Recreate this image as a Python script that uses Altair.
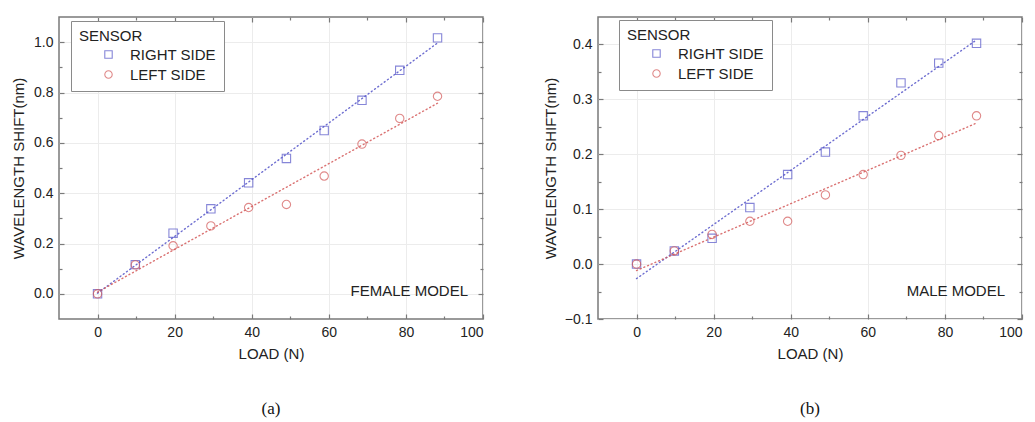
import altair as alt
import pandas as pd

# ---- data ----
loads = [0, 9.8, 19.6, 29.4, 39.2, 49.0, 58.8, 68.6, 78.4, 88.2]
female_right = [0.0, 0.116, 0.241, 0.338, 0.441, 0.538, 0.649, 0.769, 0.888, 1.017]
female_left = [0.0, 0.115, 0.191, 0.270, 0.343, 0.355, 0.468, 0.595, 0.697, 0.785]
male_right = [0.0, 0.024, 0.047, 0.103, 0.163, 0.204, 0.270, 0.330, 0.366, 0.402]
male_left = [0.0, 0.024, 0.054, 0.078, 0.078, 0.126, 0.163, 0.198, 0.234, 0.270]

sensors = ["RIGHT SIDE", "LEFT SIDE"]
colors = ["#5454c8", "#d35858"]
shapes = ["square", "circle"]

x_major = [0, 20, 40, 60, 80, 100]
x_minor = [10, 30, 50, 70, 90]
fy_major = [0.0, 0.2, 0.4, 0.6, 0.8, 1.0]
fy_minor = [0.1, 0.3, 0.5, 0.7, 0.9]
my_major = [-0.1, 0.0, 0.1, 0.2, 0.3, 0.4]
my_minor = [-0.05, 0.05, 0.15, 0.25, 0.35]

FONT = "Liberation Sans, Arial, sans-serif"
SERIF = "Liberation Serif, Times New Roman, serif"
W, H = 424, 302
FRAME = "#7a7a7a"


def make_df(right, left):
    return pd.DataFrame({
        "load": loads + loads,
        "shift": right + left,
        "sensor": [sensors[0]] * len(loads) + [sensors[1]] * len(loads),
    })


def panel(df, ydom, ymajor, yminor, title_x, leg_x, leg_y, model, model_x, caption):
    xs = alt.Scale(domain=[-10, 100], nice=False, zero=False)
    ys = alt.Scale(domain=ydom, nice=False, zero=False)
    cs = alt.Scale(domain=sensors, range=colors)
    ss = alt.Scale(domain=sensors, range=shapes)
    base = alt.Chart(df)

    leg = dict(
        title="\u00a0SENSOR", orient="none", legendX=leg_x, legendY=leg_y,
        padding=8, strokeColor="#8a8a8a", fillColor="white",
        symbolOffset=22, labelOffset=14, rowPadding=4, titlePadding=3,
        symbolSize=55, symbolStrokeWidth=1.1,
        titleFontSize=15, labelFontSize=15, titleFont=FONT, labelFont=FONT,
        titleFontWeight="normal", titleColor="#222", labelColor="#222",
    )

    points = base.mark_point(filled=False, strokeWidth=1.1, size=70).encode(
        x=alt.X("load:Q", scale=xs, axis=alt.Axis(
            orient="bottom", values=x_major, format="d", ticks=False, domain=False,
            grid=True, gridColor="#ececec", labelPadding=6,
            labelFont=FONT, labelFontSize=14, labelColor="#222",
            title="LOAD (N)", titleY=34, titleBaseline="middle",
            titleFont=FONT, titleFontSize=15, titleFontWeight="normal", titleColor="#222")),
        y=alt.Y("shift:Q", scale=ys, axis=alt.Axis(
            orient="left", values=ymajor, format=".1f", ticks=False, domain=False,
            grid=True, gridColor="#ececec", labelPadding=6,
            labelFont=FONT, labelFontSize=14, labelColor="#222",
            title="WAVELENGTH SHIFT(nm)", titleX=title_x, titleBaseline="middle",
            titleFont=FONT, titleFontSize=15, titleFontWeight="normal", titleColor="#222")),
        color=alt.Color("sensor:N", scale=cs, legend=alt.Legend(**leg)),
        shape=alt.Shape("sensor:N", scale=ss, legend=alt.Legend(**leg)),
    )

    fit = base.transform_regression(
        "load", "shift", groupby=["sensor"]
    ).mark_line(strokeDash=[1, 3], strokeWidth=1.4, strokeCap="round", opacity=0.85).encode(
        x=alt.X("load:Q", scale=xs, axis=None),
        y=alt.Y("shift:Q", scale=ys, axis=None),
        color=alt.Color("sensor:N", scale=cs, legend=None),
    )

    def ticks(xvals, yvals, xo, yo, size):
        return base.mark_point(opacity=0).encode(
            x=alt.X("load:Q", scale=xs, axis=alt.Axis(
                orient=xo, values=xvals, labels=False, domain=False, grid=False,
                title=None, tickSize={"expr": f"-{size}"}, tickColor=FRAME, tickWidth=1.2)),
            y=alt.Y("shift:Q", scale=ys, axis=alt.Axis(
                orient=yo, values=yvals, labels=False, domain=False, grid=False,
                title=None, tickSize={"expr": f"-{size}"}, tickColor=FRAME, tickWidth=1.2)),
        )

    t1 = ticks(x_major, ymajor, "bottom", "left", 5)
    t2 = ticks(x_minor, yminor, "bottom", "left", 3)
    t3 = ticks(x_major, ymajor, "top", "right", 5)
    t4 = ticks(x_minor, yminor, "top", "right", 3)

    label = alt.Chart(pd.DataFrame({"t": [model]})).mark_text(
        align="right", baseline="middle", font=FONT, fontSize=15, color="#222"
    ).encode(x=alt.value(model_x), y=alt.value(274), text="t:N")

    return alt.layer(points, fit, t1, t2, t3, t4, label).resolve_axis(
        x="independent", y="independent"
    ).properties(
        width=W, height=H,
        title=alt.TitleParams(caption, orient="bottom", anchor="middle", font=SERIF,
                              fontSize=17, fontWeight="normal", color="#111", offset=40),
    )


left = panel(make_df(female_right, female_left), [-0.1, 1.1], fy_major, fy_minor,
             -41, 12, 4, "FEMALE MODEL", 409, "(a)")
right = panel(make_df(male_right, male_left), [-0.1, 0.45], my_major, my_minor,
              -48, 21, 3, "MALE MODEL", 407, "(b)")

chart = alt.hconcat(left, right, spacing=115, bounds="flush").resolve_scale(
    color="independent", shape="independent"
).resolve_legend(color="independent", shape="independent").properties(
    padding={"left": 2, "top": 7, "right": 0, "bottom": 0}
).configure_view(
    stroke=FRAME, strokeWidth=1.5
)

chart.save("out.html", embed_options={"renderer": "svg", "actions": False})
